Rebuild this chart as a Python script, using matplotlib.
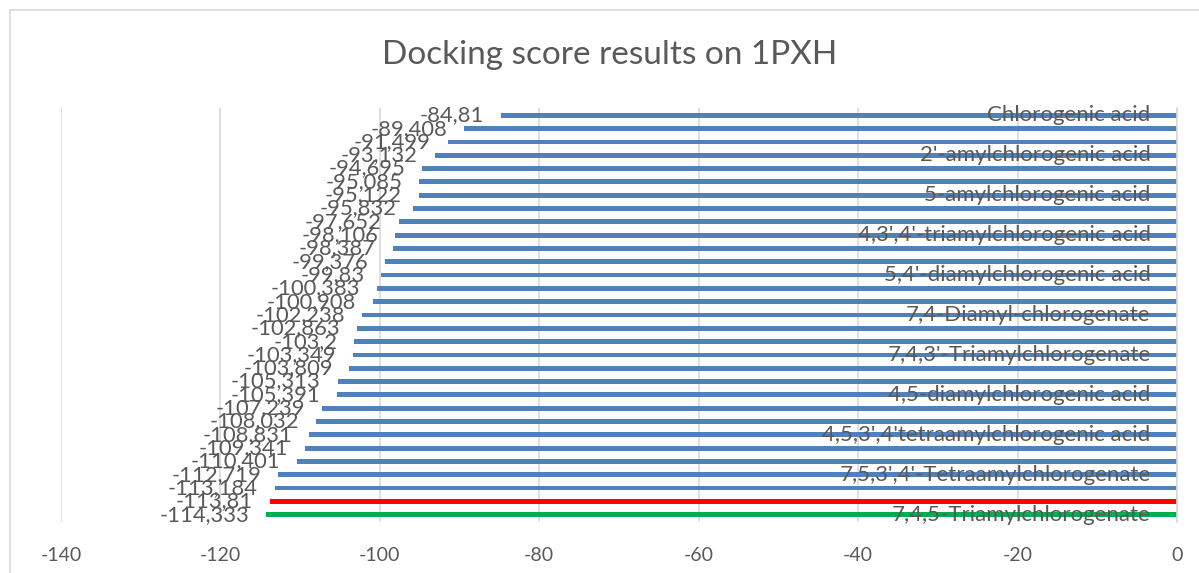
import matplotlib.pyplot as plt
from matplotlib.patches import Rectangle

plt.rcParams["font.family"] = ["Lato", "DejaVu Sans"]

# ── Data ───────────────────────────────────────────────────────────────────
scores = [
    -84.81, -89.408, -91.499, -93.132, -94.695, -95.085, -95.122, -95.832,
    -97.652, -98.106, -98.387, -99.376, -99.83, -100.383, -100.908, -102.238,
    -102.863, -103.2, -103.349, -103.809, -105.313, -105.391, -107.239,
    -108.032, -108.831, -109.341, -110.401, -112.719, -113.184, -113.81,
    -114.333,
]
# only every third category name is printed on the chart
names = [
    "Chlorogenic acid", "", "",
    "2'-amylchlorogenic acid", "", "",
    "5-amylchlorogenic acid", "", "",
    "4,3',4'-triamylchlorogenic acid", "", "",
    "5,4'-diamylchlorogenic acid", "", "",
    "7,4-Diamyl-chlorogenate", "", "",
    "7,4,3'-Triamylchlorogenate", "", "",
    "4,5-diamylchlorogenic acid", "", "",
    "4,5,3',4'tetraamylchlorogenic acid", "", "",
    "7,5,3',4'-Tetraamylchlorogenate", "", "",
    "7,4,5-Triamylchlorogenate",
]
x_ticks = [-140, -120, -100, -80, -60, -40, -20, 0]

BLUE, RED, GREEN = "#4F81BD", "#FF0000", "#00B050"
TXT = "#595959"
colors = [BLUE] * (len(scores) - 2) + [RED, GREEN]

# ── Figure ─────────────────────────────────────────────────────────────────
fig = plt.figure(figsize=(11.99, 5.73), dpi=100)
fig.patches.append(Rectangle((10 / 1199, -0.1), 1.2, (573 - 10) / 573 + 0.1,
                             transform=fig.transFigure, fill=False,
                             edgecolor="#D9D9D9", linewidth=1.2))

ax = fig.add_axes([61 / 1199, 51 / 573, (1177 - 61) / 1199, (522 - 108) / 573])

pos = list(range(len(scores)))
ax.barh(pos, scores, height=0.36, color=colors, zorder=2)

for i, v in enumerate(scores):
    ax.annotate(str(v).replace(".", ","), xy=(v, i), xytext=(-12, 0),
                textcoords="offset points", ha="right", va="center",
                fontsize=15.8, color=TXT, zorder=3)
    if names[i]:
        ax.annotate(names[i], xy=(0, i), xytext=(-19, 0),
                    textcoords="offset points", ha="right", va="center",
                    fontsize=16, color=TXT, zorder=3)

ax.set_xlim(-140, 0)
ax.set_ylim(len(scores) - 1 + 0.55, -0.55)
ax.set_xticks(x_ticks)
ax.set_xticklabels([str(t) for t in x_ticks])
ax.tick_params(axis="x", length=0, labelsize=14, colors=TXT, pad=18)
ax.set_yticks([])
ax.grid(axis="x", color="#D9D9D9", linewidth=1.2, zorder=0)
for side in ["top", "bottom", "left"]:
    ax.spines[side].set_visible(False)
ax.spines["right"].set_color("#D9D9D9")
ax.spines["right"].set_linewidth(1.2)

fig.text(610 / 1199, 1 - 55 / 573, "Docking score results on 1PXH",
         ha="center", va="center", fontsize=24, color=TXT)

fig.savefig("out.png", dpi=100)
